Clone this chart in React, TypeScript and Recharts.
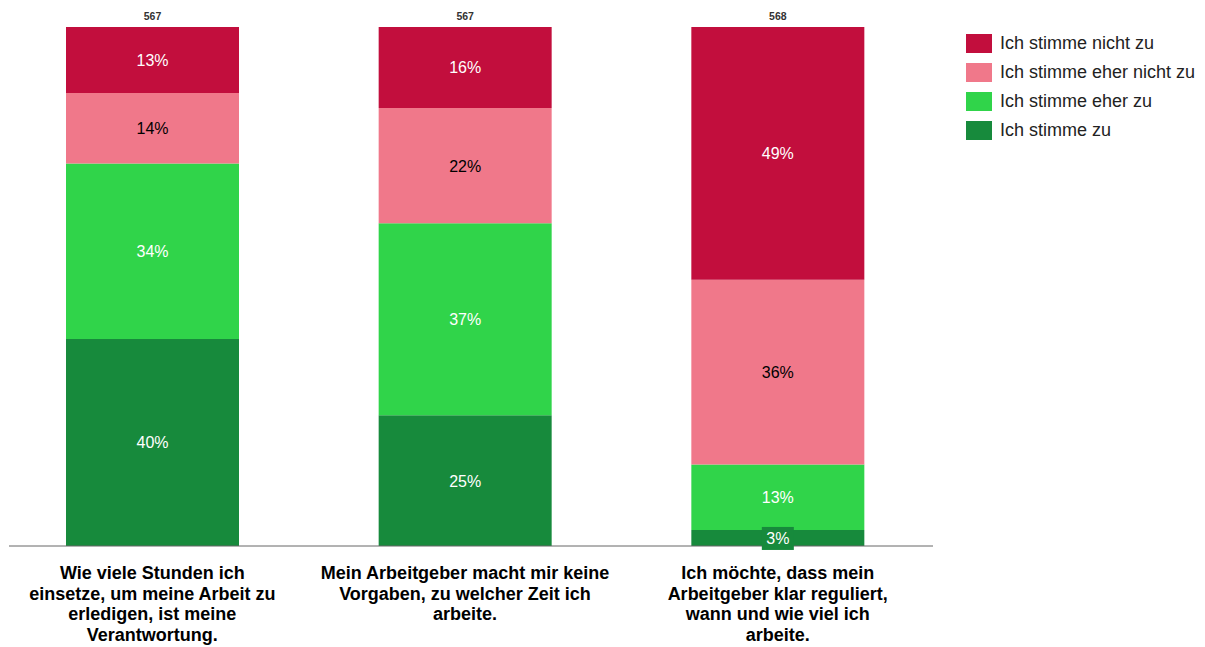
import { Bar, BarChart, LabelList, XAxis, YAxis } from "recharts";

const categories = [
  "Wie viele Stunden ich einsetze, um meine Arbeit zu erledigen, ist meine Verantwortung.",
  "Mein Arbeitgeber macht mir keine Vorgaben, zu welcher Zeit ich arbeite.",
  "Ich möchte, dass mein Arbeitgeber klar reguliert, wann und wie viel ich arbeite.",
];
const tickLines = [
  ["Wie viele Stunden ich", "einsetze, um meine Arbeit zu", "erledigen, ist meine", "Verantwortung."],
  ["Mein Arbeitgeber macht mir keine", "Vorgaben, zu welcher Zeit ich", "arbeite."],
  ["Ich möchte, dass mein", "Arbeitgeber klar reguliert,", "wann und wie viel ich", "arbeite."],
];
const counts = [567, 567, 568];

const zu = [39.9, 25.2, 3.1];
const eherZu = [33.8, 37.0, 12.6];
const eherNicht = [13.6, 22.2, 35.6];
const nicht = [12.7, 15.6, 48.7];

const series = [
  { key: "zu", name: "Ich stimme zu", color: "#178a3c", text: "#ffffff" },
  { key: "eherZu", name: "Ich stimme eher zu", color: "#30d44a", text: "#ffffff" },
  { key: "eherNicht", name: "Ich stimme eher nicht zu", color: "#f0788a", text: "#000000" },
  { key: "nicht", name: "Ich stimme nicht zu", color: "#c20e3d", text: "#ffffff" },
];

const data = categories.map((name, i) => ({
  name,
  count: counts[i],
  zu: zu[i],
  eherZu: eherZu[i],
  eherNicht: eherNicht[i],
  nicht: nicht[i],
}));

const font = "'Liberation Sans', Arial, sans-serif";

function CategoryTick(props: any) {
  const { x, y, index } = props;
  const lines = tickLines[index] || [];
  return (
    <g>
      {lines.map((line: string, i: number) => (
        <text
          key={i}
          x={x}
          y={y + 25 + i * 20.7}
          textAnchor="middle"
          fontFamily={font}
          fontWeight="bold"
          fontSize={18}
          fill="#000"
        >
          {line}
        </text>
      ))}
    </g>
  );
}

function makeSegLabel(color: string, text: string) {
  return (props: any) => {
    const { x, y, width, height, value } = props;
    const cx = x + width / 2;
    const cy = y + height / 2;
    const label = `${Math.round(value)}%`;
    const small = height < 20;
    return (
      <g>
        {small ? <rect x={cx - 16} y={cy - 11} width={32} height={23} fill={color} /> : null}
        <text
          x={cx}
          y={cy}
          dy={6}
          textAnchor="middle"
          fontFamily={font}
          fontSize={16}
          fill={text}
        >
          {label}
        </text>
      </g>
    );
  };
}

function CountLabel(props: any) {
  const { x, y, width, index } = props;
  return (
    <text
      x={x + width / 2}
      y={y - 7}
      textAnchor="middle"
      fontFamily={font}
      fontWeight="bold"
      fontSize={10.5}
      fill="#333"
    >
      {counts[index]}
    </text>
  );
}

function LegendBox() {
  const items = [...series].reverse();
  return (
    <div style={{ position: "absolute", left: 966, top: 29, fontFamily: font, fontSize: 18, color: "#222" }}>
      {items.map((s) => (
        <div key={s.key} style={{ display: "flex", alignItems: "center", height: 29 }}>
          <span style={{ width: 26, height: 19, background: s.color, marginRight: 8, display: "inline-block" }} />
          <span>{s.name}</span>
        </div>
      ))}
    </div>
  );
}

export default function App() {
  return (
    <div style={{ position: "absolute", left: 0, top: 0, width: 1205, height: 647, background: "#fff" }}>
      <BarChart
        width={1205}
        height={647}
        data={data}
        margin={{ top: 27, right: 272, bottom: 0, left: 9 }}
        barSize={173}
      >
        <XAxis
          dataKey="name"
          axisLine={{ stroke: "#666" }}
          tickLine={false}
          tick={<CategoryTick />}
          interval={0}
          padding={{ left: -13, right: -1 }}
          height={101}
        />
        <YAxis hide domain={[0, 100]} />
        {series.map((s, si) => (
          <Bar key={s.key} dataKey={s.key} name={s.name} stackId="a" fill={s.color} isAnimationActive={false}>
            <LabelList dataKey={s.key} content={makeSegLabel(s.color, s.text)} />
            {si === series.length - 1 ? <LabelList dataKey="count" content={<CountLabel />} /> : null}
          </Bar>
        ))}
      </BarChart>
      <LegendBox />
    </div>
  );
}
